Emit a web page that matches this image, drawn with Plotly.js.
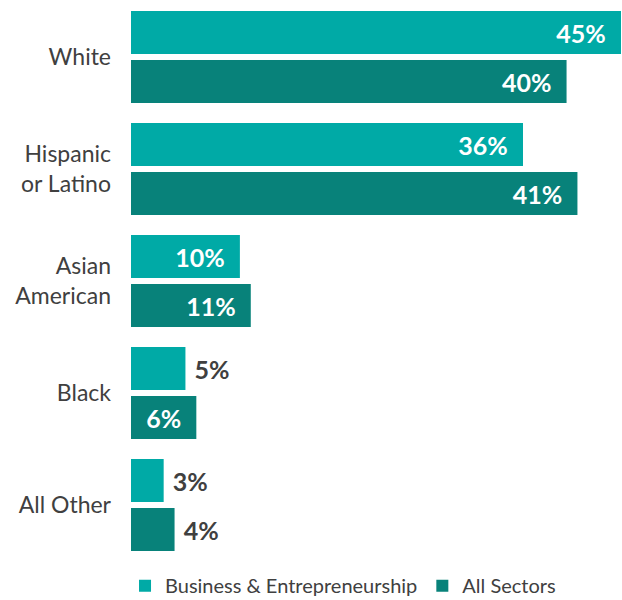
<!DOCTYPE html>
<html>
<head>
<meta charset="utf-8">
<script src="https://cdn.plot.ly/plotly-3.0.1.min.js"></script>
<style>
  html, body { margin: 0; padding: 0; background: #fff; }
  #chart { width: 622px; height: 600px; }
</style>
</head>
<body>
<div id="chart"></div>
<script>
const categories = ["White", "Hispanic<br>or Latino", "Asian<br>American", "Black", "All Other"];
const seriesNames = ["Business & Entrepreneurship", "All Sectors"];
const businessValues = [45, 36, 10, 5, 3];
const allSectorsValues = [40, 41, 11, 6, 4];
const businessTextPos = ["inside", "inside", "inside", "outside", "outside"];
const allSectorsTextPos = ["inside", "inside", "inside", "inside", "outside"];

const lightTeal = "#00AAA6";
const darkTeal = "#08827A";
const labelColor = "#404040";
const fontFamily = "Lato, 'Open Sans', sans-serif";
const NB = "\u00A0";

function labels(vals, pos) {
  return vals.map((v, i) => pos[i] === "inside" ? (v + "%" + NB + NB) : (NB + v + "%"));
}

const traces = [
  {
    type: "bar", orientation: "h", name: seriesNames[0],
    y: categories, x: businessValues,
    text: labels(businessValues, businessTextPos), textposition: businessTextPos,
    insidetextanchor: "end",
    insidetextfont: { color: "#ffffff", size: 25, family: fontFamily, weight: 700 },
    outsidetextfont: { color: labelColor, size: 25, family: fontFamily, weight: 700 },
    marker: { color: lightTeal },
    cliponaxis: false, hoverinfo: "none"
  },
  {
    type: "bar", orientation: "h", name: seriesNames[1],
    y: categories, x: allSectorsValues,
    text: labels(allSectorsValues, allSectorsTextPos), textposition: allSectorsTextPos,
    insidetextanchor: "end",
    insidetextfont: { color: "#ffffff", size: 25, family: fontFamily, weight: 700 },
    outsidetextfont: { color: labelColor, size: 25, family: fontFamily, weight: 700 },
    marker: { color: darkTeal },
    cliponaxis: false, hoverinfo: "none"
  }
];

const layout = {
  width: 622, height: 600,
  margin: { l: 131, r: 1, t: 1, b: 39, autoexpand: false },
  paper_bgcolor: "#ffffff", plot_bgcolor: "#ffffff",
  barmode: "group", bargap: 0.125, bargroupgap: 0.12,
  font: { family: fontFamily, color: labelColor },
  xaxis: { range: [0, 45], showgrid: false, zeroline: false, showticklabels: false, showline: false, fixedrange: true },
  yaxis: {
    autorange: "reversed", showgrid: false, zeroline: false, showline: false,
    ticks: "", ticklabelstandoff: 19,
    tickfont: { size: 23, color: labelColor, family: fontFamily }
  },
  showlegend: true,
  legend: {
    orientation: "h", xref: "container", x: 0.201, xanchor: "left", yref: "paper", y: -0.044, yanchor: "middle",
    font: { size: 20, color: labelColor, family: fontFamily },
    itemwidth: 30, traceorder: "normal"
  }
};

Plotly.newPlot("chart", traces, layout, { displayModeBar: false, staticPlot: true });
</script>
</body>
</html>
